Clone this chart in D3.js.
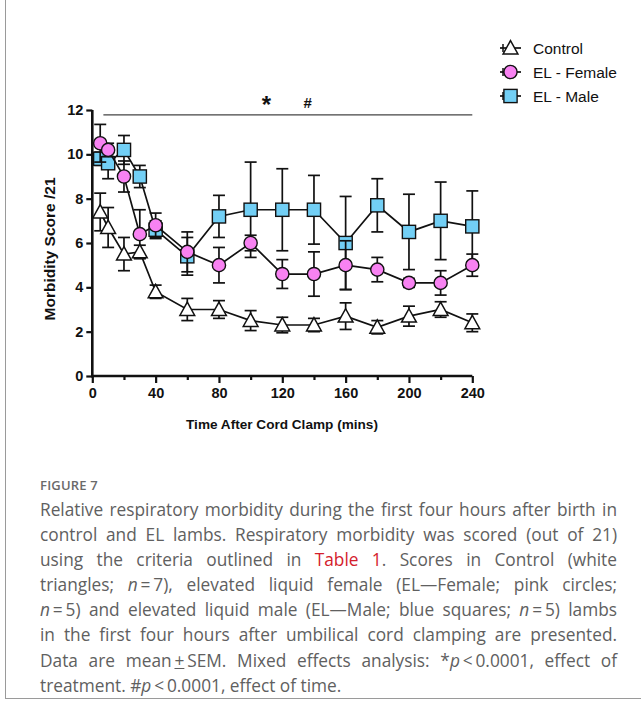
<!DOCTYPE html>
<html lang="en">
<head>
<meta charset="utf-8">
<title>Figure 7</title>
<script src="https://cdn.jsdelivr.net/npm/d3@7"></script>
<style>
  body { margin: 0; background: #fff; width: 641px; height: 704px; position: relative; overflow: hidden; }
  #chart { position: absolute; left: 0; top: 0; }
  #frame { position: absolute; left: 5px; top: -2px; width: 700px; height: 700px; border-left: 1px solid #9a9a9a; border-bottom: 1px solid #9a9a9a; }
  #caption { position: absolute; left: 40px; top: 476px; width: 577px; font-family: "Open Sans", sans-serif; color: #606060; }
  #caption .fig { font-size: 13px; font-weight: 600; color: #6a6a6a; letter-spacing: 0.2px; margin: 0 0 1px 0; height: 20px; }
  #caption .ln { font-size: 17.3px; line-height: 25.1px; height: 25.1px; white-space: nowrap; text-align: justify; text-align-last: justify; }
  #caption .ln.last { text-align-last: left; }
  #caption .red { color: #d4202c; }
</style>
</head>
<body>
<div id="frame"></div>
<div id="chart"></div>
<div id="caption">
  <div class="fig">FIGURE 7</div>
  <div class="ln">Relative respiratory morbidity during the first four hours after birth in</div>
  <div class="ln">control and EL lambs. Respiratory morbidity was scored (out of 21)</div>
  <div class="ln">using the criteria outlined in <span class="red">Table 1</span>. Scores in Control (white</div>
  <div class="ln">triangles; <i>n</i>&#8201;=&#8201;7), elevated liquid female (EL—Female; pink circles;</div>
  <div class="ln"><i>n</i>&#8201;=&#8201;5) and elevated liquid male (EL—Male; blue squares; <i>n</i>&#8201;=&#8201;5) lambs</div>
  <div class="ln">in the first four hours after umbilical cord clamping are presented.</div>
  <div class="ln">Data are mean&#8201;<u>+</u>&#8201;SEM. Mixed effects analysis: *<i>p</i>&#8201;&lt;&#8201;0.0001, effect of</div>
  <div class="ln last">treatment. #<i>p</i>&#8201;&lt;&#8201;0.0001, effect of time.</div>
</div>
<script>
// data
var times = [5, 10, 20, 30, 40, 60, 80, 100, 120, 140, 160, 180, 200, 220, 240];

var controlMean = [7.4, 6.7, 5.5, 5.6, 3.8, 3.0, 3.0, 2.5, 2.3, 2.3, 2.7, 2.2, 2.7, 3.0, 2.4];
var controlSem  = [0.85, 0.9, 0.75, 0.3, 0.3, 0.5, 0.4, 0.45, 0.35, 0.3, 0.6, 0.3, 0.45, 0.35, 0.4];

var femaleMean = [10.5, 10.2, 9.0, 6.4, 6.8, 5.6, 5.0, 6.0, 4.6, 4.6, 5.0, 4.8, 4.2, 4.2, 5.0];
var femaleSem  = [0.85, 0.3, 0.7, 1.1, 0.55, 0.9, 0.8, 0.35, 0.65, 1.0, 1.1, 0.55, 0.2, 0.55, 0.5];

var maleMean = [9.8, 9.6, 10.2, 9.0, 6.6, 5.4, 7.2, 7.5, 7.5, 7.5, 6.0, 7.7, 6.5, 7.0, 6.75];
var maleSem  = [0.3, 0.7, 0.65, 0.5, 0.4, 0.85, 0.95, 2.15, 1.85, 1.55, 2.1, 1.2, 1.7, 1.75, 1.6];

var yTicks = [0, 2, 4, 6, 8, 10, 12];
var xTicks = [0, 40, 80, 120, 160, 200, 240];
var xMinorTicks = [20, 60, 100, 140, 180, 220];

var seriesNames = ["Control", "EL - Female", "EL - Male"];
var sigLine = [7, 240];     // time span of the significance bar
var sigLevel = 11.78;
var sigMarks = [{t: 110, s: "*"}, {t: 136, s: "#"}];

var w = 641, h = 460;
var x = d3.scaleLinear().domain([0, 240]).range([92.3, 472.3]);
var y = d3.scaleLinear().domain([0, 12]).range([376, 110]);

var svg = d3.select("#chart").append("svg").attr("width", w).attr("height", h);
var fontAx = "'Liberation Sans', Arial, Helvetica, sans-serif";

function build(mean, sem){
  return times.map(function(t, i){ return {t: t, v: mean[i], e: sem[i]}; });
}

var series = [
  {name: seriesNames[2], shape: "square", fill: "#72cff5", data: build(maleMean, maleSem)},
  {name: seriesNames[1], shape: "circle", fill: "#f882f2", data: build(femaleMean, femaleSem)},
  {name: seriesNames[0], shape: "triangle", fill: "#ffffff", data: build(controlMean, controlSem)}
];

function drawMarker(g, shape, fill, cx, cy){
  if(shape == "circle"){
    g.append("circle").attr("cx", cx).attr("cy", cy).attr("r", 6.6)
      .attr("fill", fill).attr("stroke", "#111").attr("stroke-width", 1.4);
  }else if(shape == "square"){
    g.append("rect").attr("x", cx - 6.6).attr("y", cy - 6.6).attr("width", 13.2).attr("height", 13.2)
      .attr("fill", fill).attr("stroke", "#111").attr("stroke-width", 1.4);
  }else{
    var s = 7.4;
    g.append("path").attr("d", "M" + cx + "," + (cy - s) + "L" + (cx + s) + "," + (cy + s * 0.8) + "L" + (cx - s) + "," + (cy + s * 0.8) + "Z")
      .attr("fill", fill).attr("stroke", "#111").attr("stroke-width", 1.5).attr("stroke-linejoin", "miter");
  }
}

var line = d3.line().x(function(d){ return x(d.t); }).y(function(d){ return y(d.v); });

series.forEach(function(s){
  var g = svg.append("g");
  g.append("path").datum(s.data).attr("d", line)
    .attr("fill", "none").attr("stroke", "#111").attr("stroke-width", 1.7);
  s.data.forEach(function(d){
    var cx = x(d.t);
    g.append("line").attr("x1", cx).attr("x2", cx).attr("y1", y(d.v - d.e)).attr("y2", y(d.v + d.e))
      .attr("stroke", "#111").attr("stroke-width", 1.7);
    [d.v - d.e, d.v + d.e].forEach(function(v){
      g.append("line").attr("x1", cx - 6).attr("x2", cx + 6).attr("y1", y(v)).attr("y2", y(v))
        .attr("stroke", "#111").attr("stroke-width", 1.7);
    });
  });
  s.data.forEach(function(d){
    drawMarker(g, s.shape, s.fill, x(d.t), y(d.v));
  });
});

// axes
var yAxis = d3.axisLeft(y).tickValues(yTicks).tickSize(6).tickPadding(3).tickFormat(d3.format("d"));
var gy = svg.append("g").attr("transform", "translate(" + x(0) + ",0)").call(yAxis);
var xAxis = d3.axisBottom(x).tickValues(xTicks).tickSize(7).tickPadding(5).tickFormat(d3.format("d"));
var gx = svg.append("g").attr("transform", "translate(0," + y(0) + ")").call(xAxis);
var gxm = svg.append("g").attr("transform", "translate(0," + y(0) + ")")
  .call(d3.axisBottom(x).tickValues(xMinorTicks).tickSize(4).tickFormat(""));
gxm.select(".domain").remove();

[gx, gy, gxm].forEach(function(g){
  g.selectAll(".domain").attr("stroke", "#111").attr("stroke-width", 2.6);
  g.selectAll(".tick line").attr("stroke", "#111").attr("stroke-width", 2.2);
  g.selectAll(".tick text").attr("fill", "#111").attr("font-family", fontAx)
    .attr("font-size", "14.5px").attr("font-weight", "bold");
});
gx.select(".domain").attr("d", "M" + (x(0) - 1.3) + ",0H" + x(240));
gy.select(".domain").attr("d", "M0," + (y(0) + 1.3) + "V" + y(12));

svg.append("text").attr("x", 282).attr("y", 429).attr("text-anchor", "middle")
  .attr("font-family", fontAx).attr("font-size", "13.6px").attr("font-weight", "bold").attr("fill", "#111")
  .text("Time After Cord Clamp (mins)");
svg.append("text").attr("transform", "translate(55,249) rotate(-90)").attr("text-anchor", "middle")
  .attr("font-family", fontAx).attr("font-size", "15.5px").attr("font-weight", "bold").attr("fill", "#111")
  .text("Morbidity Score /21");

// significance annotation
svg.append("line").attr("x1", x(sigLine[0])).attr("x2", x(sigLine[1])).attr("y1", y(sigLevel)).attr("y2", y(sigLevel))
  .attr("stroke", "#444").attr("stroke-width", 1.2);
sigMarks.forEach(function(m){
  svg.append("text").attr("x", x(m.t)).attr("y", m.s == "*" ? 113 : 108).attr("text-anchor", "middle")
    .attr("font-family", fontAx).attr("font-weight", "bold").attr("font-size", m.s == "*" ? "24px" : "15px")
    .attr("fill", "#111").text(m.s);
});

// legend
var legendOrder = [series[2], series[1], series[0]];
legendOrder.forEach(function(s, i){
  var ly = 48 + i * 24;
  var lg = svg.append("g");
  lg.append("line").attr("x1", 500).attr("x2", 521).attr("y1", ly).attr("y2", ly).attr("stroke", "#111").attr("stroke-width", 1.7);
  lg.append("line").attr("x1", 503).attr("x2", 503).attr("y1", ly - 4).attr("y2", ly + 4).attr("stroke", "#111").attr("stroke-width", 1.5);
  drawMarker(lg, s.shape, s.fill, 510.5, ly);
  lg.append("text").attr("x", 533).attr("y", ly + 5.5).attr("font-family", fontAx).attr("font-size", "15.5px")
    .attr("fill", "#111").text(s.name);
});
</script>
</body>
</html>
